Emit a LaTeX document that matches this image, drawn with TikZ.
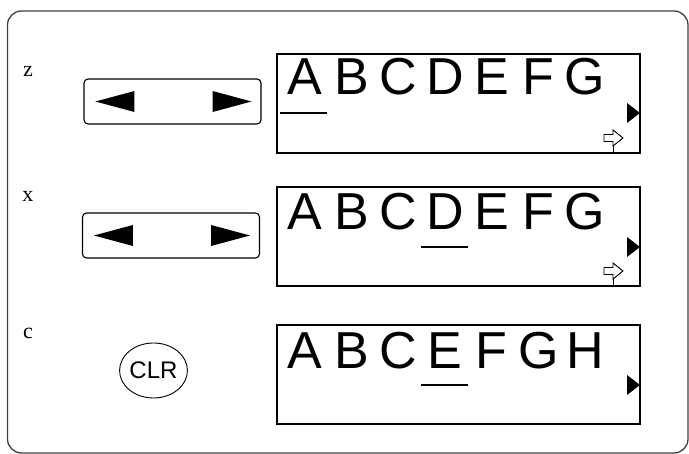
\documentclass[tikz,border=0pt]{standalone}
\usepackage{fontspec}
\setmainfont{Liberation Serif}
\newfontfamily\keyfont{Liberation Sans}
\usetikzlibrary{shapes.geometric}
\tikzset{
  lcdbox/.style={draw, line width=2pt, minimum width=363pt, minimum height=99pt, inner sep=0pt},
  keybox/.style={draw, line width=1.1pt, rounded corners=4pt, minimum width=177pt, minimum height=45pt, inner sep=0pt},
  lcdchar/.style={anchor=base, inner sep=0pt, font=\keyfont\fontsize{52}{52}\selectfont},
  steplabel/.style={inner sep=0pt, font=\fontsize{22}{22}\selectfont},
  cursormark/.pic={
    \draw[line width=0.9pt, line join=miter] (-9,-3.5) -- (0,-3.5) -- (0,-8) -- (10,0) -- (0,8) -- (0,3.5) -- (-9,3.5) -- cycle;
    \draw[line width=0.9pt] (0,8) -- (0,15);
  }
}
\begin{document}
\begin{tikzpicture}[x=1pt, y=-1pt]
\useasboundingbox (0,0) rectangle (689,454);
\draw[line width=1.3pt, draw=black!75, rounded corners=14pt] (7.5,11) rectangle (688,453);
% step labels
\node[steplabel] (labz) at (28,71) {z};
\node[steplabel] (labx) at (28,196) {x};
\node[steplabel] (labc) at (28,333) {c};
% keys
\node[keybox] (keyz) at (172.5,101.5) {};
\node[keybox] (keyx) at (171,235.5) {};
\foreach \k in {keyz,keyx} {
  \fill ([xshift=12pt]\k.west) -- ([xshift=51pt,yshift=10.5pt]\k.west) -- ([xshift=51pt,yshift=-10.5pt]\k.west) -- cycle;
  \fill ([xshift=-10pt]\k.east) -- ([xshift=-49pt,yshift=10.5pt]\k.east) -- ([xshift=-49pt,yshift=-10.5pt]\k.east) -- cycle;
}
\node[draw, ellipse, line width=0.9pt, minimum width=63pt, minimum height=55pt, inner sep=0pt, font=\keyfont\fontsize{24}{24}\selectfont] (clr) at (153.5,370.5) {CLR};
% displays
\node[lcdbox] (dispz) at (458.5,103.5) {};
\node[lcdbox] (dispx) at (458.5,236.5) {};
\node[lcdbox] (dispc) at (458.5,375) {};
\foreach \ch [count=\i] in {A,B,C,D,E,F,G} {
  \node[lcdchar] (z\i) at ({305+46.7*(\i-1)},95) {\ch};
  \node[lcdchar] (x\i) at ({305+46.7*(\i-1)},230) {\ch};
}
\foreach \ch [count=\i] in {A,B,C,E,F,G,H}
  \node[lcdchar] (c\i) at ({305+46.7*(\i-1)},369) {\ch};
% cursors
\draw[line width=2pt] (280,113) -- (327,113);
\draw[line width=2pt] (421,247) -- (468,247);
\draw[line width=2pt] (421,385) -- (468,385);
\foreach \y in {113,247,385}
  \fill (627,\y-10) -- (640,\y) -- (627,\y+10) -- cycle;
\pic at (613,138) {cursormark};
\pic at (613,271) {cursormark};
\end{tikzpicture}
\end{document}
